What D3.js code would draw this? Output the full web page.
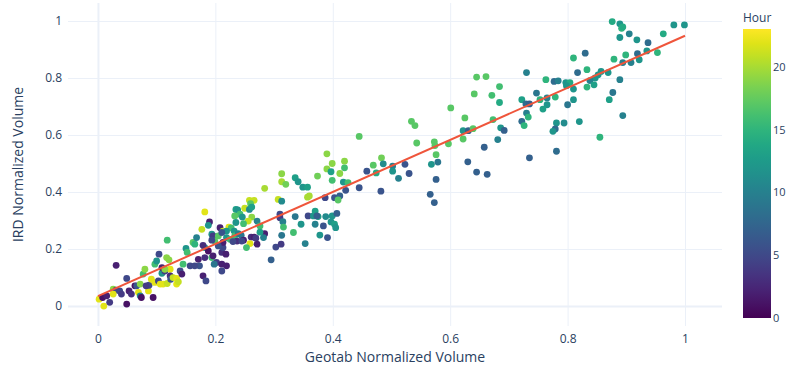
<!DOCTYPE html>
<html><head><meta charset="utf-8">
<script src="https://cdn.jsdelivr.net/npm/d3@7/dist/d3.min.js"></script>
<style>body{margin:0;background:#fff}svg{display:block;font-family:"Open Sans",sans-serif}</style>
</head><body><svg id="c" width="786" height="365"></svg>
<script>
// Geotab normalized volume (x)
const geotab = [
 // low range
 0.002,0.010,0.008,0.020,0.015,0.031,0.026,0.037,0.040,0.049,
 0.049,0.053,0.057,0.063,0.066,0.072,0.069,0.072,0.074,0.077,
 0.080,0.086,0.087,0.091,0.097,0.094,0.097,0.100,0.103,0.104,
 0.106,0.111,0.118,0.109,0.109,0.117,0.121,0.114,0.123,0.118,
 0.123,0.124,0.128,0.134,0.134,0.137,0.140,0.143,0.145,0.150,
 0.152,0.157,0.162,0.165,0.168,0.171,0.173,0.177,0.182,0.179,
 0.184,0.182,0.188,0.190,0.188,0.194,0.196,0.194,0.202,0.211,
 0.219,0.211,0.213,0.213,0.219,0.225,0.208,0.213,0.031,0.026,
 0.082,0.114,0.196,0.199,0.182,0.196,0.198,0.165,
 // 0.2 - 0.4
 0.313,0.313,0.320,0.336,0.341,0.349,0.357,0.374,0.357,0.360,
 0.284,0.307,0.313,0.258,0.266,0.260,0.235,0.238,0.250,0.258,
 0.262,0.242,0.233,0.262,0.246,0.271,0.276,0.235,0.256,0.248,
 0.223,0.227,0.232,0.219,0.205,0.233,0.239,0.244,0.284,0.282,
 0.276,0.261,0.266,0.269,0.248,0.237,0.245,0.259,0.271,0.230,
 0.205,0.253,0.218,0.295,0.303,0.312,0.313,0.333,0.310,0.310,
 0.315,0.316,0.336,0.346,0.353,0.358,0.367,0.375,0.388,0.370,
 0.384,0.378,0.391,0.179,0.211,0.194,0.211,
 // 0.37 - 0.55
 0.534,0.540,0.543,0.445,0.390,0.399,0.420,0.390,0.420,0.397,
 0.412,0.399,0.418,0.426,0.483,0.486,0.469,0.474,0.458,0.502,
 0.502,0.523,0.530,0.512,0.422,0.445,0.482,0.387,0.403,0.412,
 0.409,0.370,0.373,0.399,0.407,0.397,0.403,0.405,
 // 0.55 - 0.75
 0.730,0.645,0.661,0.684,0.641,0.671,0.684,0.747,0.722,0.729,
 0.735,0.730,0.733,0.722,0.726,0.601,0.625,0.673,0.622,0.631,
 0.639,0.622,0.686,0.692,0.681,0.597,0.573,0.574,0.576,0.568,
 0.579,0.658,0.630,0.645,0.663,0.735,0.576,0.566,0.573,
 // 0.75 - 1
 0.876,0.889,0.892,0.894,0.889,0.905,0.918,0.937,0.981,0.999,
 0.963,0.953,0.935,0.919,0.922,0.908,0.899,0.894,0.879,0.830,
 0.810,0.833,0.817,0.857,0.869,0.852,0.847,0.838,0.845,0.833,
 0.889,0.763,0.777,0.784,0.797,0.804,0.798,0.810,0.765,0.765,
 0.779,0.753,0.758,0.810,0.800,0.877,0.871,0.894,0.820,0.794,
 0.781,0.779,0.775,0.855,0.781
];
// IRD normalized volume (y)
const ird = [
 0.024,0.000,0.030,0.013,0.036,0.143,0.059,0.053,0.042,0.097,
 0.007,0.053,0.042,0.071,0.071,0.077,0.048,0.036,0.030,0.112,
 0.129,0.053,0.073,0.094,0.083,0.030,0.147,0.158,0.088,0.182,
 0.077,0.077,0.079,0.115,0.135,0.170,0.162,0.123,0.129,0.231,
 0.106,0.094,0.100,0.097,0.077,0.085,0.123,0.112,0.147,0.202,
 0.188,0.141,0.223,0.217,0.240,0.164,0.141,0.269,0.330,0.106,
 0.088,0.205,0.193,0.295,0.283,0.252,0.244,0.170,0.153,0.147,
 0.141,0.188,0.205,0.223,0.240,0.234,0.275,0.263,0.056,0.042,
 0.071,0.129,0.246,0.228,0.170,0.176,0.147,0.141,

 0.464,0.436,0.427,0.450,0.436,0.417,0.417,0.456,0.382,0.386,
 0.413,0.374,0.368,0.371,0.371,0.359,0.339,0.337,0.343,0.339,
 0.347,0.322,0.316,0.312,0.312,0.298,0.281,0.293,0.298,0.289,
 0.277,0.274,0.263,0.263,0.246,0.246,0.254,0.248,0.254,0.240,
 0.259,0.242,0.242,0.238,0.231,0.228,0.228,0.219,0.217,0.226,
 0.211,0.205,0.182,0.162,0.207,0.217,0.248,0.258,0.322,0.310,
 0.296,0.277,0.314,0.287,0.219,0.316,0.316,0.314,0.314,0.287,
 0.281,0.249,0.240,0.213,0.258,0.231,0.123,

 0.648,0.633,0.572,0.595,0.534,0.500,0.508,0.481,0.485,0.471,
 0.465,0.441,0.435,0.433,0.520,0.499,0.494,0.467,0.473,0.491,
 0.473,0.497,0.465,0.448,0.406,0.415,0.403,0.380,0.380,0.386,
 0.372,0.333,0.316,0.316,0.325,0.295,0.287,0.275,

 0.819,0.803,0.805,0.770,0.744,0.739,0.714,0.747,0.724,0.709,
 0.709,0.677,0.663,0.648,0.633,0.695,0.660,0.654,0.615,0.615,
 0.622,0.586,0.625,0.616,0.584,0.569,0.576,0.563,0.531,0.497,
 0.505,0.557,0.506,0.470,0.462,0.520,0.444,0.392,0.363,

 0.998,0.990,0.974,0.979,0.942,0.955,0.934,0.924,0.986,0.986,
 0.955,0.889,0.895,0.885,0.864,0.854,0.881,0.854,0.866,0.887,
 0.870,0.829,0.819,0.823,0.819,0.811,0.800,0.791,0.776,0.768,
 0.794,0.794,0.788,0.790,0.784,0.784,0.773,0.761,0.730,0.706,
 0.733,0.724,0.691,0.724,0.706,0.749,0.724,0.668,0.647,0.642,
 0.642,0.621,0.613,0.592,0.543
];
// Hour of day (colour)
const hour = [
 22,22,1,4,2,2,19,5,4,5,
 1,2,3,1,6,19,22,10,1,16,
 19,22,5,22,22,1,16,12,5,5,
 22,22,21,12,2,19,19,4,22,16,
 3,6,21,22,22,21,5,2,16,12,
 16,5,17,15,10,2,6,21,22,2,
 5,12,1,2,12,12,13,16,4,2,
 2,3,5,2,12,16,2,21,5,22,
 4,19,4,17,3,2,9,5,

 19,20,18,13,12,12,13,18,20,20,
 20,21,11,21,21,17,13,12,21,11,
 13,16,17,19,12,10,16,12,21,16,
 22,16,12,12,17,16,10,9,2,10,
 13,3,2,4,2,3,5,22,2,5,
 6,16,2,7,5,4,9,16,5,4,
 10,16,9,12,10,5,12,13,11,10,
 6,12,6,3,6,5,5,

 17,17,17,17,19,19,19,19,16,13,
 19,16,12,16,18,11,17,14,6,10,
 12,6,6,10,6,6,6,5,6,7,
 17,13,7,12,7,12,13,12,

 10,17,17,16,17,16,14,9,13,8,
 7,10,15,8,15,17,17,16,12,7,
 17,17,12,7,10,17,17,17,17,12,
 9,7,7,7,7,7,7,7,7,

 14,12,15,14,12,10,12,8,12,12,
 14,15,12,8,12,10,15,10,15,8,
 15,15,8,12,12,12,12,10,13,15,
 10,15,8,10,12,14,12,12,10,12,
 15,15,13,12,9,9,13,10,12,11,
 12,8,12,15,8
];
// OLS trendline endpoints
const trendX = [0, 1];
const trendY = [0.035, 0.948];
const axisTicks = [0, 0.2, 0.4, 0.6, 0.8, 1];
const axisTickLabels = ["0", "0.2", "0.4", "0.6", "0.8", "1"];
const hourTicks = [0, 5, 10, 15, 20];
const hourRange = [0, 23];

const svg = d3.select("#c");
const L = 68, R = 722, T = 3, B = 326;
const x = d3.scaleLinear().domain([-0.051, 1.063]).range([L, R]);
const y = d3.scaleLinear().domain([-0.07, 1.063]).range([B, T]);
const color = d3.scaleSequential(d3.interpolateViridis).domain(hourRange);
const gridC = "#EBF0F8", txtC = "#2a3f5f";

// grid
const xAx = d3.axisBottom(x).tickValues(axisTicks).tickSize(-(B - T)).tickFormat((d, i) => axisTickLabels[i]).tickPadding(8);
const gx = svg.append("g").attr("transform", `translate(0,${B})`).call(xAx);
const yAx = d3.axisLeft(y).tickValues(axisTicks).tickSize(-(R - L)).tickFormat((d, i) => axisTickLabels[i]).tickPadding(6);
const gy = svg.append("g").attr("transform", `translate(${L},0)`).call(yAx);
[gx, gy].forEach(g => {
  g.select(".domain").remove();
  g.selectAll("line").attr("stroke", gridC).attr("stroke-width", d => d === 0 ? 2 : 1);
  g.selectAll("text").attr("fill", txtC).attr("font-size", 12).attr("font-family", '"Open Sans",sans-serif');
});

// points
const pts = geotab.map((g, i) => ({gx: g, iy: ird[i], h: hour[i]}));
svg.append("g").selectAll("circle").data(pts).join("circle")
  .attr("cx", d => x(d.gx)).attr("cy", d => y(d.iy)).attr("r", 3.4)
  .attr("fill", d => color(d.h));

// trendline
svg.append("path").datum(trendX.map((t, i) => [t, trendY[i]]))
  .attr("d", d3.line().x(d => x(d[0])).y(d => y(d[1])))
  .attr("stroke", "#EF553B").attr("stroke-width", 2).attr("fill", "none");

// axis titles
svg.append("text").attr("x", (L + R) / 2).attr("y", 362).attr("text-anchor", "middle")
  .attr("font-size", 14).attr("fill", txtC).text("Geotab Normalized Volume");
svg.append("text").attr("transform", `translate(18,${(T + B) / 2}) rotate(-90)`).attr("text-anchor", "middle")
  .attr("dy", "0.35em").attr("font-size", 14).attr("fill", txtC).text("IRD Normalized Volume");

// colorbar
const cbX = 743, cbW = 28, cbTop = 29, cbBot = 318;
const cy = d3.scaleLinear().domain(hourRange).range([cbBot, cbTop]);
const defs = svg.append("defs");
const grad = defs.append("linearGradient").attr("id", "vg").attr("x1", 0).attr("y1", 1).attr("x2", 0).attr("y2", 0);
d3.range(0, 1.0001, 0.05).forEach(t => grad.append("stop").attr("offset", t).attr("stop-color", d3.interpolateViridis(t)));
svg.append("rect").attr("x", cbX).attr("y", cbTop).attr("width", cbW).attr("height", cbBot - cbTop).attr("fill", "url(#vg)");
const cAx = d3.axisRight(cy).tickValues(hourTicks).tickSize(0).tickPadding(2);
const gc = svg.append("g").attr("transform", `translate(${cbX + cbW},0)`).call(cAx);
gc.select(".domain").remove();
gc.selectAll("text").attr("fill", txtC).attr("font-size", 11).attr("font-family", '"Open Sans",sans-serif');
svg.append("text").attr("x", cbX).attr("y", 22).attr("font-size", 12).attr("fill", txtC).text("Hour");
</script></body></html>
